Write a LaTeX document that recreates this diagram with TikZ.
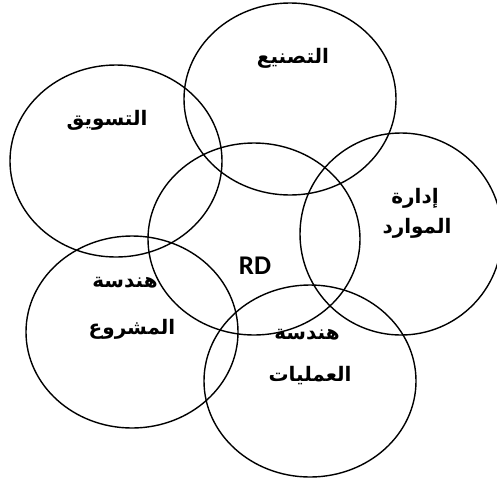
\documentclass[tikz,border=0pt]{standalone}
\usepackage{fontspec}
\TeXXeTstate=1
\newfontfamily\arabicfont[Script=Arabic]{DejaVu Sans Bold}
\newfontfamily\rdfont{Carlito Bold}
\usetikzlibrary{positioning}
\tikzset{
  ring/.style={draw=black, line width=1.4pt},
  arlabel/.style={font=\arabicfont\fontsize{20}{24}\selectfont, inner sep=1pt},
}

\begin{document}
\begin{tikzpicture}[x=1pt, y=-1pt]
    \useasboundingbox (0,0) rectangle (497,480);

    % centres of the six rings
    \coordinate (cmanuf) at (290,99);
    \coordinate (cmarket) at (116,161);
    \coordinate (crd) at (254,239);
    \coordinate (cres) at (401,234);
    \coordinate (cproj) at (132,332);
    \coordinate (cops) at (310,381);

    \draw[ring] (cmanuf) ellipse [x radius=106, y radius=96];
    \draw[ring] (cmarket) ellipse [x radius=106, y radius=96];
    \draw[ring] (crd) ellipse [x radius=106, y radius=96];
    \draw[ring] (cres) ellipse [x radius=101, y radius=101];
    \draw[ring] (cproj) ellipse [x radius=106, y radius=96];
    \draw[ring] (cops) ellipse [x radius=106, y radius=96];

    % labels, one node per line
    \node[arlabel] (manuf) at (293,58) {\beginR التصنيع\endR};
    \node[arlabel] (market) at (107,120) {\beginR التسويق\endR};
    \node[arlabel] (resA) at (415,198) {\beginR إدارة\endR};
    \node[arlabel] (resB) at (417,228) {\beginR الموارد\endR};
    \node[font=\rdfont\fontsize{27}{30}\selectfont] (rd) at (255,266) {RD};
    \node[arlabel] (projA) at (125,283) {\beginR هندسة\endR};
    \node[arlabel] (projB) at (132,329) {\beginR المشروع\endR};
    \node[arlabel] (opsA) at (307,335) {\beginR هندسة\endR};
    \node[arlabel] (opsB) at (310,376) {\beginR العمليات\endR};
\end{tikzpicture}
\end{document}
